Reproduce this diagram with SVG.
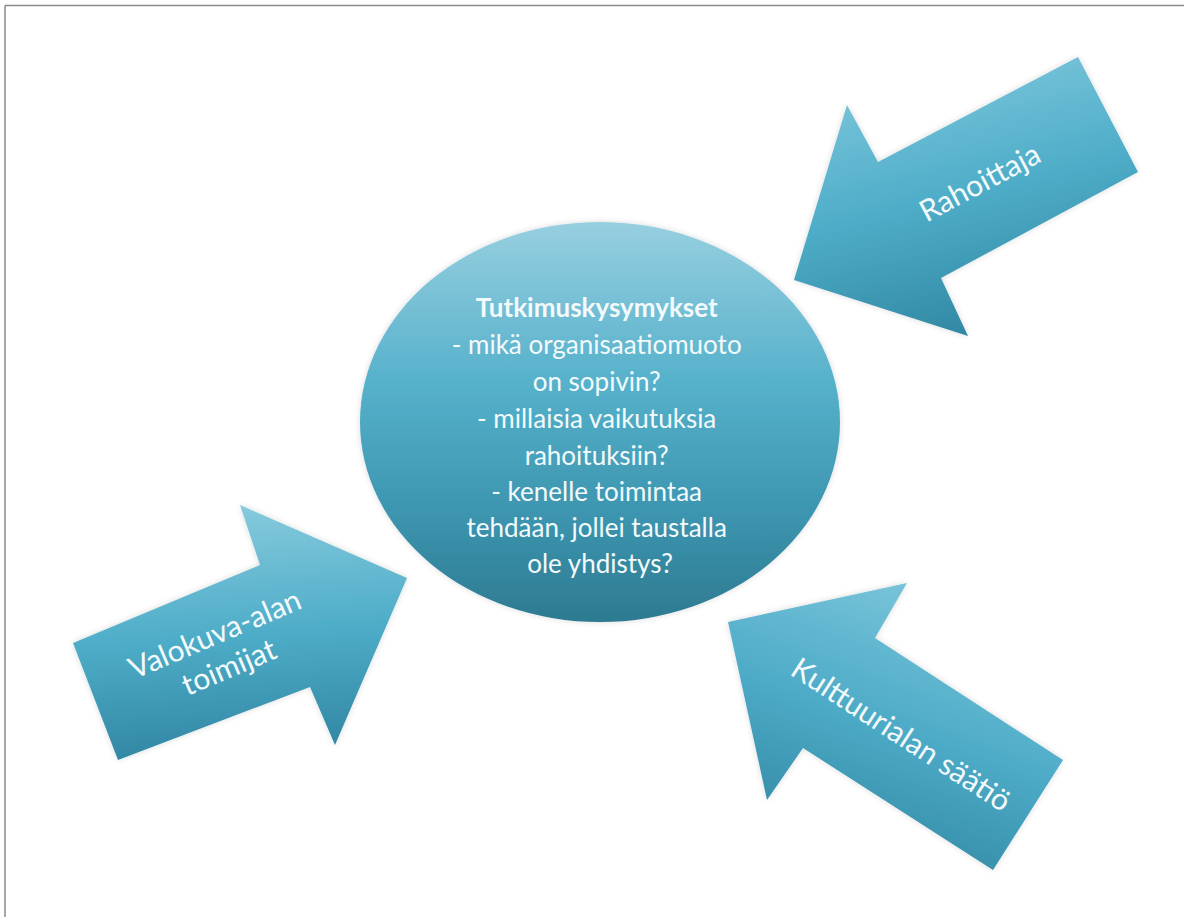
<svg xmlns="http://www.w3.org/2000/svg" width="1184" height="917" viewBox="0 0 1184 917">
<defs>
<linearGradient id="gEll" x1="0" y1="0" x2="0" y2="1">
<stop offset="0" stop-color="#97cfe0"/>
<stop offset="0.4" stop-color="#56b1cb"/>
<stop offset="0.75" stop-color="#3b93ad"/>
<stop offset="1" stop-color="#2d7a90"/>
</linearGradient>
<linearGradient id="gR" x1="0.3" y1="0" x2="0.6" y2="1">
<stop offset="0" stop-color="#7fc8dc"/>
<stop offset="0.5" stop-color="#4eadc8"/>
<stop offset="1" stop-color="#3086a1"/>
</linearGradient>
<linearGradient id="gV" x1="0.5" y1="0" x2="0.6" y2="1">
<stop offset="0" stop-color="#86cadd"/>
<stop offset="0.5" stop-color="#4eadc8"/>
<stop offset="1" stop-color="#2f84a0"/>
</linearGradient>
<linearGradient id="gK" x1="0.7" y1="0" x2="0.3" y2="1">
<stop offset="0" stop-color="#7ec7dc"/>
<stop offset="0.5" stop-color="#4dabc7"/>
<stop offset="1" stop-color="#2f85a0"/>
</linearGradient>
<filter id="glow" x="-10%" y="-10%" width="120%" height="120%">
<feGaussianBlur in="SourceAlpha" stdDeviation="3"/>
<feOffset dx="0" dy="0"/>
<feComponentTransfer><feFuncA type="linear" slope="0.15"/></feComponentTransfer>
<feMerge><feMergeNode/><feMergeNode in="SourceGraphic"/></feMerge>
</filter>
</defs>
<style>
.lbl{font-family:Lato,"Open Sans","Liberation Sans",sans-serif;fill:#f3fafc;text-anchor:middle}
.c{font-size:26px}
.a{font-size:30px}
</style>
<rect x="0" y="0" width="1184" height="917" fill="#ffffff"/>
<g id="frame" stroke="#8a8a8a" stroke-width="1.5" fill="none">
<line x1="5" y1="5.5" x2="1184" y2="5.5"/>
<line x1="5" y1="5.5" x2="5" y2="917"/>
</g>
<g id="connectors">
<g id="arrow-rahoittaja">
<polygon points="1078,57 1138,172 941,278 968,336 794,280 847,105 878,162" fill="url(#gR)" filter="url(#glow)"/>
<text class="lbl a" transform="translate(980,183) rotate(-28)" y="10">Rahoittaja</text>
</g>
<g id="arrow-valokuva">
<polygon points="73,643 260,565 240,505 407,578 335,745 310,687 118,760" fill="url(#gV)" filter="url(#glow)"/>
<text class="lbl a" transform="translate(222,651) rotate(-23)"><tspan x="0" y="-8">Valokuva-alan</tspan><tspan x="0" y="28">toimijat</tspan></text>
</g>
<g id="arrow-kulttuuri">
<polygon points="728,622 907,583 875,638 1063,760 993,870 803,748 767,800" fill="url(#gK)" filter="url(#glow)"/>
<text class="lbl a" transform="translate(901,735) rotate(33)" y="10">Kulttuurialan säätiö</text>
</g>
</g>
<g id="node-tutkimuskysymykset">
<ellipse cx="600" cy="422" rx="240" ry="200" fill="url(#gEll)" filter="url(#glow)"/>
<text class="lbl c">
<tspan x="600" y="317" font-weight="bold">Tutkimuskysymykset</tspan>
<tspan x="600" y="354">- mikä organisaatiomuoto</tspan>
<tspan x="600" y="391">on sopivin?</tspan>
<tspan x="600" y="428">- millaisia vaikutuksia</tspan>
<tspan x="600" y="465">rahoituksiin?</tspan>
<tspan x="600" y="501">- kenelle toimintaa</tspan>
<tspan x="600" y="537">tehdään, jollei taustalla</tspan>
<tspan x="600" y="573">ole yhdistys?</tspan>
</text>
</g>
</svg>
